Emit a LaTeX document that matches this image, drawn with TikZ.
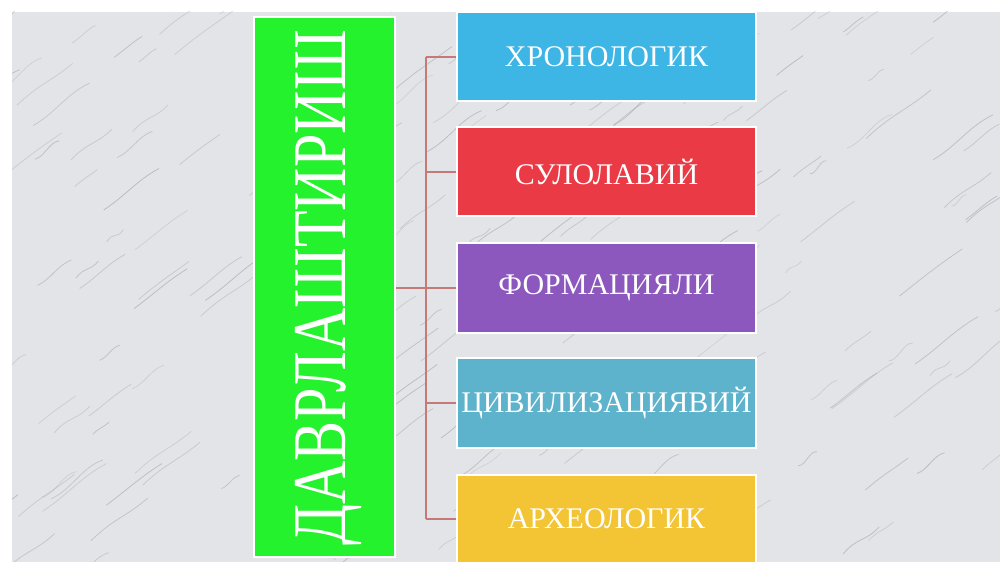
\documentclass[tikz,border=0pt]{standalone}
\usepackage{fontspec}
\setmainfont{Liberation Serif}
\definecolor{marble}{HTML}{E3E4E7}
\definecolor{vein}{HTML}{9EA2A9}
\definecolor{cgreen}{HTML}{24F22C}
\definecolor{cblue}{HTML}{3DB5E5}
\definecolor{cred}{HTML}{EA3A45}
\definecolor{cpurple}{HTML}{8C58BE}
\definecolor{cteal}{HTML}{5DB3CB}
\definecolor{cyellow}{HTML}{F3C434}
\definecolor{conn}{HTML}{C57A78}
\begin{document}
\begin{tikzpicture}[x=1bp,y=-1bp,
  catbox/.style={draw=white,line width=2bp,minimum width=299bp,minimum height=89bp,
    inner sep=0pt,text=white,font=\fontsize{30bp}{33bp}\selectfont},
  link/.style={draw=conn,line width=1.6bp}]
\useasboundingbox (0,0) rectangle (1000,562);
\fill[white] (0,0) rectangle (1000,562);
\fill[marble] (12,12) rectangle (1000,562);
\begin{scope}
\clip (12,12) rectangle (1000,562);
\pgfmathsetseed{7}
\foreach \i in {1,...,220}{
  \pgfmathsetmacro{\xa}{rnd*1100-50}
  \pgfmathsetmacro{\ya}{rnd*620-30}
  \pgfmathsetmacro{\len}{15+rnd*50}
  \pgfmathsetmacro{\wob}{rnd*14-7}
  \pgfmathsetmacro{\op}{0.25+rnd*0.35}
  \draw[vein,opacity=\op,line width=0.8bp]
    (\xa,\ya) .. controls (\xa+\len*0.4,\ya-\len*0.3+\wob) and (\xa+\len*0.6,\ya-\len*0.5-\wob) .. (\xa+\len,\ya-\len*0.75);
}
\end{scope}
% main box
\node[draw=white,line width=2bp,fill=cgreen,minimum width=141bp,minimum height=540bp,inner sep=0pt]
  (main) at (324.5,287) {};
\node[rotate=90,text=white,inner sep=0pt,font=\fontsize{76bp}{80bp}\selectfont]
  (mainlabel) at (328,288) {\scalebox{0.79}[1]{ДАВРЛАШТИРИШ}};
% category boxes
\node[catbox,fill=cblue]   (b1) at (606.5,57)  {ХРОНОЛОГИК};
\node[catbox,fill=cred]    (b2) at (606.5,172) {СУЛОЛАВИЙ};
\node[catbox,fill=cpurple] (b3) at (606.5,288) {ФОРМАЦИЯЛИ};
\node[catbox,fill=cteal]   (b4) at (606.5,403) {ЦИВИЛИЗАЦИЯВИЙ};
\node[catbox,fill=cyellow] (b5) at (606.5,519) {АРХЕОЛОГИК};
% connectors
\coordinate (trunk) at (426,288);
\draw[link] (main.east |- trunk) -- (trunk);
\draw[link] (b1.west -| trunk) -- (b5.west -| trunk);
\foreach \b in {b1,b2,b3,b4,b5}{
  \draw[link] (\b.west -| trunk) -- (\b.west);
}
\end{tikzpicture}
\end{document}
